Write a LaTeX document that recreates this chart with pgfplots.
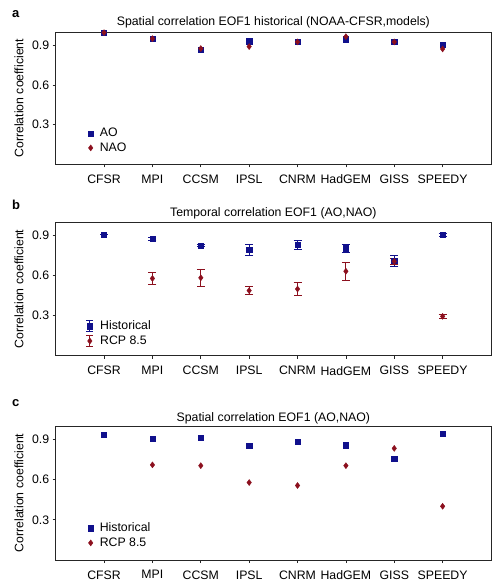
\documentclass[border=0pt]{standalone}
\usepackage{pgfplots}
\pgfplotsset{compat=1.18}
\usepackage{fontspec}
\setmainfont{Liberation Sans}

\definecolor{aoblue}{RGB}{16,16,140}
\definecolor{naored}{RGB}{140,16,30}

\newcommand{\lblfont}{\fontsize{12.3}{15}\selectfont}

\pgfplotsset{
  corrpanel/.style={
    scale only axis,
    width=435.3pt,
    xmin=0, xmax=9, ymin=0, ymax=1,
    clip=false,
    xtick={1,2,3,4,5,6,7,8},
    xticklabels={CFSR,MPI,CCSM,IPSL,CNRM,HadGEM,GISS,SPEEDY},
    ytick={0.3,0.6,0.9},
    yticklabels={0.3,0.6,0.9},
    tick pos=left, tick align=outside,
    major tick length=3pt,
    axis line style={draw=black!85, line width=0.7pt},
    every tick/.style={black!85, line width=0.7pt},
    tick label style={font=\lblfont},
    xticklabel style={yshift=-4pt},
    ylabel={Correlation coefficient},
    ylabel style={font=\lblfont, at={(axis description cs:-0.0843,0.5)}, anchor=center},
    title style={font=\lblfont, at={(0.5,1)}, anchor=base},
    legend cell align=left,
    legend style={draw=none, fill=none, font=\lblfont, anchor=west,
      inner sep=0pt, column sep=3pt, row sep=1.5pt,
      nodes={inner xsep=3.5pt, inner ysep=1.5pt}},
    legend image code/.code={\draw[#1] plot coordinates {(0cm,0cm)};},
  },
  aomark/.style={only marks, mark=square*, mark size=2.6pt, color=aoblue},
  naomark/.style={only marks, mark=diamond*, mark size=3pt, color=naored},
  errlegend/.style={
    legend image code/.code={
      \draw[##1, mark=none, line width=0.8pt] (0pt,-5.5pt) -- (0pt,5.5pt);
      \draw[##1, mark=none, line width=0.8pt] (-3.5pt,-5.5pt) -- (3.5pt,-5.5pt);
      \draw[##1, mark=none, line width=0.8pt] (-3.5pt,5.5pt) -- (3.5pt,5.5pt);
      \draw[##1] plot coordinates {(0cm,0cm)};
    },
  },
  errpanel/.style={
    error bars/.cd, y dir=both, y explicit,
    error bar style={line width=0.8pt},
    error mark options={rotate=90, mark size=4pt, line width=0.8pt},
    /pgfplots/.cd,
  },
}

\begin{document}
\begin{tikzpicture}[x=1pt, y=1pt]
\useasboundingbox (0,0) rectangle (500,584);

% panel labels
\node[anchor=base west, inner sep=0pt, font=\fontsize{13}{15}\selectfont\bfseries] at (12,566) {a};
\node[anchor=base west, inner sep=0pt, font=\fontsize{13}{15}\selectfont\bfseries] at (12,374) {b};
\node[anchor=base west, inner sep=0pt, font=\fontsize{13}{15}\selectfont\bfseries] at (12,177) {c};

% (a) spatial correlation, historical runs
\begin{axis}[corrpanel,
  at={(55.7pt,419.5pt)}, anchor=south west, height=132.5pt,
  title={Spatial correlation EOF1 historical (NOAA-CFSR,models)},
  title style={yshift=0pt},
  legend style={at={(axis description cs:0.074,0.18)}},
]
\addplot[aomark] coordinates {
  (1,0.995) (2,0.950) (3,0.868) (4,0.930) (5,0.925) (6,0.945) (7,0.925) (8,0.905)};
\addlegendentry{AO}
\addplot[naomark] coordinates {
  (1,0.995) (2,0.950) (3,0.875) (4,0.890) (5,0.925) (6,0.965) (7,0.925) (8,0.872)};
\addlegendentry{NAO}
\end{axis}

% (b) temporal correlation, historical vs RCP 8.5
\begin{axis}[corrpanel,
  at={(55.7pt,228.3pt)}, anchor=south west, height=133.4pt,
  title={Temporal correlation EOF1 (AO,NAO)},
  title style={yshift=-0.6pt},
  legend style={at={(axis description cs:0.069,0.166)}},
]
\addplot[aomark, errlegend, errpanel] table[x=x, y=y, y error=e] {
x y     e
1 0.907 0.000
2 0.875 0.012
3 0.826 0.010
4 0.796 0.042
5 0.830 0.032
6 0.806 0.030
7 0.710 0.040
8 0.907 0.010
};
\addlegendentry{Historical}
\addplot[naomark, errlegend, errpanel] table[x=x, y=y, y error=e] {
x y     e
2 0.579 0.043
3 0.584 0.065
4 0.488 0.032
5 0.500 0.047
6 0.633 0.067
7 0.707 0.026
8 0.295 0.015
};
\addlegendentry{RCP 8.5}
\end{axis}

% (c) spatial correlation, historical vs RCP 8.5
\begin{axis}[corrpanel,
  at={(55.7pt,24pt)}, anchor=south west, height=134pt,
  title={Spatial correlation EOF1 (AO,NAO)},
  title style={yshift=-1.8pt},
  legend style={at={(axis description cs:0.074,0.183)}},
]
\addplot[aomark] coordinates {
  (1,0.937) (2,0.907) (3,0.912) (4,0.853) (5,0.883) (6,0.856) (7,0.757) (8,0.944)};
\addlegendentry{Historical}
\addplot[naomark] coordinates {
  (2,0.710) (3,0.704) (4,0.578) (5,0.556) (6,0.704) (7,0.833) (8,0.401)};
\addlegendentry{RCP 8.5}
\end{axis}
\end{tikzpicture}
\end{document}
